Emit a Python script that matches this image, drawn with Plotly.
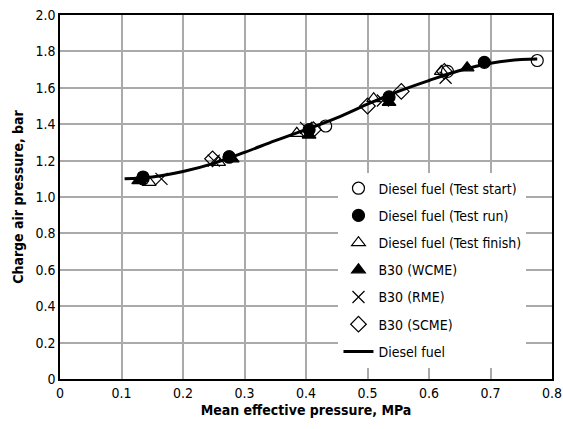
import plotly.graph_objects as go

start_x = [0.135, 0.275, 0.432, 0.630, 0.776]
start_y = [1.10, 1.22, 1.39, 1.69, 1.75]
run_x = [0.135, 0.275, 0.405, 0.535, 0.690]
run_y = [1.11, 1.22, 1.37, 1.55, 1.74]
finish_x = [0.145, 0.258, 0.385, 0.510, 0.620]
finish_y = [1.08, 1.19, 1.35, 1.54, 1.69]
wcme_x = [0.128, 0.280, 0.405, 0.535, 0.662]
wcme_y = [1.09, 1.21, 1.34, 1.52, 1.71]
rme_x = [0.165, 0.250, 0.400, 0.525, 0.627]
rme_y = [1.10, 1.20, 1.38, 1.53, 1.655]
scme_x = [0.248, 0.412, 0.500, 0.555, 0.625]
scme_y = [1.21, 1.37, 1.50, 1.58, 1.69]
line_x = [0.105, 0.15, 0.20, 0.25, 0.30, 0.35, 0.40, 0.45, 0.50, 0.55, 0.60, 0.65, 0.70, 0.75, 0.776]
line_y = [1.10, 1.11, 1.14, 1.185, 1.245, 1.31, 1.37, 1.435, 1.51, 1.58, 1.64, 1.695, 1.735, 1.755, 1.758]
x_ticks = [0, 0.1, 0.2, 0.3, 0.4, 0.5, 0.6, 0.7, 0.8]
x_labels = ["0", "0.1", "0.2", "0.3", "0.4", "0.5", "0.6", "0.7", "0.8"]
y_ticks = [0, 0.2, 0.4, 0.6, 0.8, 1.0, 1.2, 1.4, 1.6, 1.8, 2.0]
y_labels = ["0", "0.2", "0.4", "0.6", "0.8", "1.0", "1.2", "1.4", "1.6", "1.8", "2.0"]

FONT = "DejaVu Sans Condensed, Roboto, sans-serif"
fig = go.Figure()

def add_markers(x, y, name, symbol, size=12):
    fig.add_trace(go.Scatter(
        x=x, y=y, mode="markers", name=name, legendgroup=name,
        marker=dict(symbol=symbol, size=size, color="black",
                    line=dict(color="black", width=1.2)),
    ))

fig.add_trace(go.Scatter(x=line_x, y=line_y, mode="lines", name="Diesel fuel",
                         legendgroup="line", line=dict(color="black", width=3, shape="spline"),
                         showlegend=False))
add_markers(start_x, start_y, "Diesel fuel (Test start)", "circle-open")
add_markers(run_x, run_y, "Diesel fuel (Test run)", "circle")
add_markers(finish_x, finish_y, "Diesel fuel (Test finish)", "triangle-up-open")
add_markers(wcme_x, wcme_y, "B30 (WCME)", "triangle-up")
add_markers(rme_x, rme_y, "B30 (RME)", "x-thin-open")
add_markers(scme_x, scme_y, "B30 (SCME)", "diamond-open")
fig.add_trace(go.Scatter(x=[None], y=[None], mode="lines", name="Diesel fuel",
                         legendgroup="line2", line=dict(color="black", width=3)))

axis_common = dict(showline=True, linecolor="black", linewidth=1.5, mirror=True,
                   showgrid=True, gridcolor="#aaaaaa", gridwidth=1.5, zeroline=False,
                   ticks="", automargin=False,
                   tickfont=dict(family=FONT, size=14, color="black"))
fig.update_xaxes(range=[0, 0.8], tickvals=x_ticks, ticktext=x_labels,
                 ticklabeloverflow="allow",
                 title=dict(text="<b>Mean effective pressure, MPa</b>", standoff=6,
                            font=dict(family=FONT, size=14, color="black")),
                 **axis_common)
fig.update_yaxes(range=[0, 2.0], tickvals=y_ticks, ticktext=y_labels,
                 title=dict(text="<b>Charge air pressure, bar</b>", standoff=9,
                            font=dict(family=FONT, size=14, color="black")),
                 **axis_common)
fig.update_layout(
    width=563, height=429,
    margin=dict(l=60, r=11, t=15, b=50),
    plot_bgcolor="white", paper_bgcolor="white",
    font=dict(family=FONT, size=14, color="black"),
    legend=dict(x=0.566, y=0.567, xanchor="left", yanchor="top",
                bgcolor="white", borderwidth=0, tracegroupgap=6, itemwidth=30,
                font=dict(family=FONT, size=14, color="black")),
)
fig.write_html("out.html", config={"displayModeBar": False},
               post_script="document.body.style.margin='0';")
